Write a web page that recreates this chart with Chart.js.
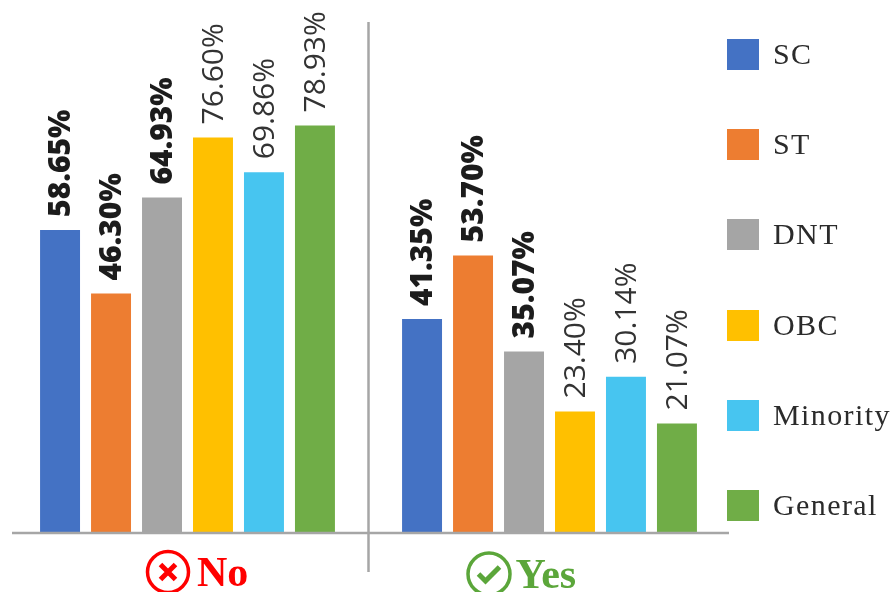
<!DOCTYPE html>
<html>
<head>
<meta charset="utf-8">
<style>
body { margin:0; background:#fff; }
#wrap { position:relative; width:895px; height:592px; overflow:hidden; }
#legend { position:absolute; left:727px; top:39px; }
.row { height:90.2px; display:flex; align-items:flex-start; }
.box { width:32px; height:31px; }
.txt { margin-left:14px; font:30px "Liberation Serif"; letter-spacing:1.4px; color:#2b2b2b; line-height:29px; }
</style>
<script src="https://cdn.jsdelivr.net/npm/chart.js@4"></script>
</head>
<body>
<div id="wrap">
<canvas id="myChart" width="895" height="592"></canvas>
<div id="legend"></div>
</div>
<script>
var categories = ["No", "Yes"];
var seriesNames = ["SC", "ST", "DNT", "OBC", "Minority", "General"];
var scValues = [58.65, 41.35];
var stValues = [46.30, 53.70];
var dntValues = [64.93, 35.07];
var obcValues = [76.60, 23.40];
var minorityValues = [69.86, 30.14];
var generalValues = [78.93, 21.07];
var colors = ["#4472C4", "#ED7D31", "#A5A5A5", "#FFC000", "#47C5F0", "#70AD47"];
var allValues = [scValues, stValues, dntValues, obcValues, minorityValues, generalValues];

var datasets = [];
seriesNames.forEach(function (name, i) {
    datasets.push({ label: name, data: allValues[i], backgroundColor: colors[i] });
    var row = document.createElement("div");
    row.className = "row";
    row.innerHTML = '<div class="box" style="background:' + colors[i] + '"></div><div class="txt">' + name + '</div>';
    document.getElementById("legend").appendChild(row);
});

// value labels above bars, first three series are bold
var valueLabels = {
    id: "valueLabels",
    afterDatasetsDraw: function (chart) {
        var ctx = chart.ctx;
        chart.data.datasets.forEach(function (ds, i) {
            chart.getDatasetMeta(i).data.forEach(function (bar, j) {
                ctx.save();
                ctx.translate(bar.x + 1.5, bar.y - 13);
                ctx.rotate(-Math.PI / 2);
                ctx.font = (i < 3 ? "800 " : "") + "30px 'Open Sans'";
                ctx.fillStyle = i < 3 ? "#1c1c1c" : "#333333";
                ctx.textAlign = "left";
                ctx.textBaseline = "middle";
                ctx.fillText(ds.data[j].toFixed(2) + "%", 0, 0);
                ctx.restore();
            });
        });
    }
};

// baseline, divider and the No / Yes labels with their icons
var axisDecor = {
    id: "axisDecor",
    afterDraw: function (chart) {
        var ctx = chart.ctx, x = chart.scales.x, y = chart.scales.y;
        var base = y.getPixelForValue(0);
        var mid = (x.getPixelForTick(0) + x.getPixelForTick(1)) / 2;
        ctx.save();
        ctx.strokeStyle = "#A6A6A6";
        ctx.lineWidth = 2.5;
        ctx.beginPath();
        ctx.moveTo(12, base + 1);
        ctx.lineTo(729, base + 1);
        ctx.moveTo(mid, 22);
        ctx.lineTo(mid, 572);
        ctx.stroke();

        var noX = x.getPixelForTick(0), yesX = x.getPixelForTick(1);
        ctx.font = "bold 42px 'Liberation Serif'";
        ctx.textBaseline = "alphabetic";
        ctx.textAlign = "left";
        ctx.fillStyle = "#FF0000";
        ctx.fillText(categories[0], noX + 9.5, 586);
        ctx.fillStyle = "#5BA63A";
        ctx.fillText(categories[1], yesX - 34, 588);

        // cross icon
        ctx.lineWidth = 3.5;
        ctx.strokeStyle = "#FF0000";
        ctx.beginPath();
        ctx.arc(noX - 19.5, 572, 20.5, 0, Math.PI * 2);
        ctx.stroke();
        ctx.lineWidth = 5;
        ctx.beginPath();
        ctx.moveTo(noX - 27, 564.5); ctx.lineTo(noX - 12, 579.5);
        ctx.moveTo(noX - 12, 564.5); ctx.lineTo(noX - 27, 579.5);
        ctx.stroke();

        // check icon
        ctx.lineWidth = 3.5;
        ctx.strokeStyle = "#5BA63A";
        ctx.beginPath();
        ctx.arc(yesX - 60.5, 574, 21, 0, Math.PI * 2);
        ctx.stroke();
        ctx.lineWidth = 5;
        ctx.beginPath();
        ctx.moveTo(yesX - 71, 574); ctx.lineTo(yesX - 64, 581); ctx.lineTo(yesX - 50, 567);
        ctx.stroke();
        ctx.restore();
    }
};

new Chart(document.getElementById("myChart"), {
    type: "bar",
    data: { labels: categories, datasets: datasets },
    options: {
        responsive: false,
        animation: false,
        categoryPercentage: 0.845,
        barPercentage: 0.784,
        layout: { padding: { left: 6.5, right: 164.5, top: 17, bottom: 60 } },
        plugins: { legend: { display: false }, tooltip: { enabled: false } },
        scales: {
            x: { display: false, grid: { display: false } },
            y: { display: false, min: 0, max: 100, grid: { display: false } }
        }
    },
    plugins: [valueLabels, axisDecor]
});
</script>
</body>
</html>
